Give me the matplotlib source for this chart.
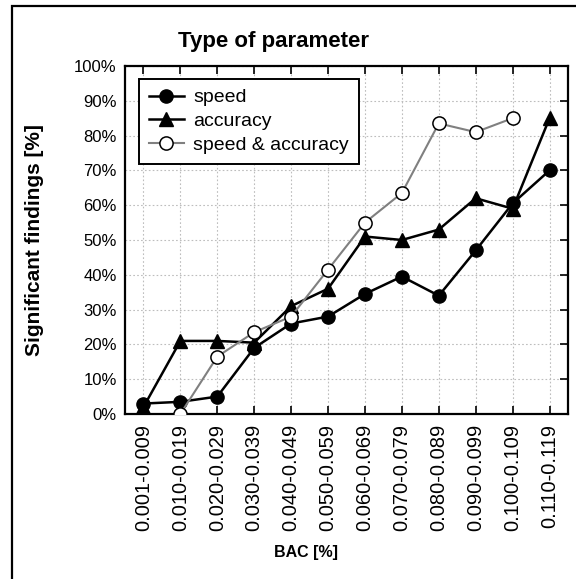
import numpy as np
import matplotlib
matplotlib.use("Agg")
import matplotlib.pyplot as plt
from matplotlib.patches import Rectangle
from matplotlib.ticker import MultipleLocator, FuncFormatter

plt.rcParams['font.family'] = ['Liberation Sans', 'DejaVu Sans']

categories = ["0.001-0.009", "0.010-0.019", "0.020-0.029", "0.030-0.039",
              "0.040-0.049", "0.050-0.059", "0.060-0.069", "0.070-0.079",
              "0.080-0.089", "0.090-0.099", "0.100-0.109", "0.110-0.119"]
speed = [3.0, 3.5, 5.0, 19.0, 26.0, 28.0, 34.5, 39.5, 34.0, 47.0, 60.5, 70.0]
accuracy = [2.0, 21.0, 21.0, 20.5, 31.0, 36.0, 51.0, 50.0, 53.0, 62.0, 59.0, 85.0]
speed_accuracy = [np.nan, 0.0, 16.5, 23.5, 28.0, 41.5, 55.0, 63.5, 83.5, 81.0, 85.0, np.nan]

W, H = 576, 579
fig = plt.figure(figsize=(W / 100, H / 100), dpi=100)
ax = fig.add_axes([125 / W, 1 - 414 / H, (568 - 125) / W, (414 - 66) / H])

x = np.arange(len(categories))
ax.plot(x, speed, color='black', lw=1.8, marker='o', ms=9.5,
        mfc='black', mec='black', label='speed', zorder=4)
ax.plot(x, accuracy, color='black', lw=1.8, marker='^', ms=9.5,
        mfc='black', mec='black', label='accuracy', zorder=4)
ax.plot(x, speed_accuracy, color='#808080', lw=1.5, marker='o', ms=9.5,
        mfc='white', mec='black', mew=1.1, label='speed & accuracy', zorder=5)

ax.set_xlim(-0.5, len(categories) - 0.5)
ax.set_ylim(0, 100)
ax.yaxis.set_major_locator(MultipleLocator(10))
ax.yaxis.set_major_formatter(FuncFormatter(lambda v, p: f"{v:.0f}%"))
ax.set_xticks(x)
ax.set_xticklabels(categories, rotation=90, fontsize=14.5)

ax.grid(True, color='#bdbdbd', ls=(0, (1.5, 2)), lw=0.8)
ax.set_axisbelow(True)

for s in ax.spines.values():
    s.set_linewidth(1.6)

ax.tick_params(axis='x', direction='in', top=True, bottom=True, length=6,
               width=1.2, pad=7)
ax.tick_params(axis='y', left=False, right=True, direction='in', length=6,
               width=1.2, labelsize=12, pad=6)

fig.text(273 / W, 1 - 42 / H, 'Type of parameter', fontsize=16,
         fontweight='bold', ha='center', va='center')
fig.text(306 / W, 1 - 553 / H, 'BAC [%]', fontsize=11.5,
         fontweight='bold', ha='center', va='center')
fig.text(35 / W, 1 - 240 / H, 'Significant findings [%]', fontsize=15,
         fontweight='bold', ha='center', va='center', rotation=90)

leg = ax.legend(loc='upper left', bbox_to_anchor=(14 / 443, (414 - 79) / 348),
                borderaxespad=0, fancybox=False, edgecolor='black', framealpha=1,
                fontsize=14, handlelength=1.8, borderpad=0.5, labelspacing=0.32,
                handletextpad=0.5)
leg.get_frame().set_linewidth(1.4)

fig.patches.append(Rectangle((12 / W, -0.02), 1.2, 1 - 6 / H + 0.02,
                             transform=fig.transFigure, fill=False,
                             lw=1.6, edgecolor='black'))

fig.savefig('out.png', dpi=100)
